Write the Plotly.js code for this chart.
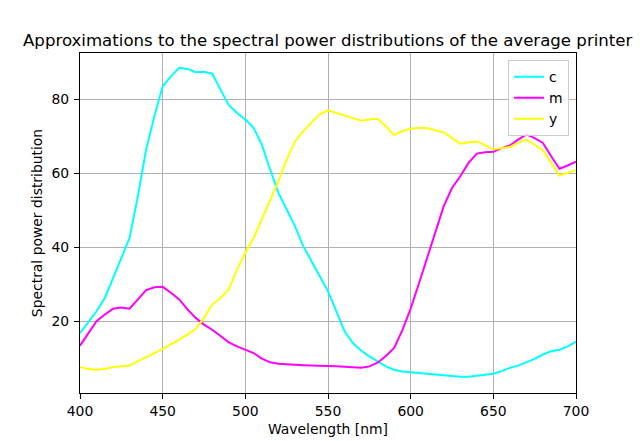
<!DOCTYPE html>
<html>
<head>
<meta charset="utf-8">
<script src="https://cdn.plot.ly/plotly-3.0.1.min.js"></script>
<style>html,body{margin:0;padding:0;background:#fff;}#chart{width:640px;height:441px;}</style>
</head>
<body>
<div id="chart"></div>
<script>
const wavelengths = [400,405,410,415,420,425,430,435,440,445,450,455,460,465,470,475,480,485,490,495,500,505,510,515,520,525,530,535,540,545,550,555,560,565,570,575,580,585,590,595,600,605,610,615,620,625,630,635,640,645,650,655,660,665,670,675,680,685,690,695,700];
const cyan = [16.8,19.7,22.7,26.3,31.7,37.1,42.5,53.8,66.4,75.4,83.5,86.2,88.5,88.2,87.3,87.4,86.9,82.6,78.4,76.3,74.5,72.3,67.7,61.0,54.7,50.2,45.7,40.3,36.2,32.2,28.1,22.7,17.3,14.1,12.1,10.5,9.2,7.8,6.9,6.4,6.2,6.0,5.8,5.4,5.2,5.1,5.0,5.0,5.2,5.6,5.8,6.5,7.4,8.0,8.9,9.8,11.0,11.9,12.3,13.2,14.5];
const magenta = [13.4,16.8,20.0,21.8,23.4,23.7,23.4,25.9,28.4,29.2,29.3,27.7,25.9,23.2,20.9,19.1,17.7,16.0,14.3,13.2,12.3,11.4,9.9,8.9,8.5,8.3,8.2,8.1,8.0,8.0,7.9,7.8,7.7,7.5,7.4,7.8,8.8,10.6,12.8,17.6,23.4,30.2,37.0,43.9,51.1,56.0,59.2,62.8,65.3,65.7,65.8,66.8,67.5,69.1,70.5,69.5,68.2,64.6,61.2,62.1,63.1];
const yellow = [7.6,7.1,6.9,7.1,7.6,7.7,8.0,9.2,10.4,11.4,12.5,13.7,15.0,16.4,17.9,20.9,24.5,26.3,28.6,34.0,38.5,42.5,47.5,52.4,57.8,63.7,68.6,71.4,73.6,75.9,77.0,76.3,75.4,74.8,74.2,74.5,74.7,72.7,70.3,71.4,72.0,72.2,72.2,71.6,71.1,69.5,68.0,68.4,68.6,67.6,66.4,66.8,67.1,68.2,69.1,67.7,66.2,62.8,59.4,60.1,60.8];
const seriesNames = ['c','m','y'];
const seriesColors = ['#00ffff','#ff00ff','#ffff00'];
const xTicks = [400,450,500,550,600,650,700];
const yTicks = [20,40,60,80];

const seriesData = [cyan, magenta, yellow];
const traces = seriesData.map((vals, i) => ({
  x: wavelengths, y: vals, name: seriesNames[i], type: 'scatter', mode: 'lines',
  line: {color: seriesColors[i], width: 2}
}));

const font = {family: 'DejaVu Sans, sans-serif', color: '#000'};
const layout = {
  width: 640, height: 441,
  margin: {l: 80, r: 64, t: 53, b: 48, pad: 0},
  paper_bgcolor: '#fff', plot_bgcolor: '#fff',
  font: Object.assign({size: 14}, font),
  title: {text: 'Approximations to the spectral power distributions of the average printer',
    font: Object.assign({size: 16.6}, font), x: 23/640, xanchor: 'left', xref: 'container',
    y: 0.91, yanchor: 'middle', yref: 'container'},
  xaxis: {range: [400, 700], tickvals: xTicks, ticktext: xTicks.map(String),
    showgrid: true, gridcolor: '#b0b0b0', gridwidth: 1, zeroline: false,
    showline: true, linecolor: '#000', linewidth: 1, mirror: true,
    ticks: 'outside', ticklen: 5, tickwidth: 1, tickcolor: '#000',
    tickfont: Object.assign({size: 13.9}, font),
    title: {text: 'Wavelength [nm]', font: Object.assign({size: 13.9}, font), standoff: 6}},
  yaxis: {range: [0.6, 92.5], tickvals: yTicks, ticktext: yTicks.map(String),
    showgrid: true, gridcolor: '#b0b0b0', gridwidth: 1, zeroline: false,
    showline: true, linecolor: '#000', linewidth: 1, mirror: true,
    ticks: 'outside', ticklen: 5, tickwidth: 1, tickcolor: '#000',
    ticklabelstandoff: 2,
    tickfont: Object.assign({size: 13.9}, font),
    title: {text: 'Spectral power distribution', font: Object.assign({size: 13.9}, font), standoff: 5}},
  legend: {x: 0.986, y: 0.979, xanchor: 'right', yanchor: 'top',
    bgcolor: 'rgba(255,255,255,0.8)', bordercolor: '#cccccc', borderwidth: 1,
    font: Object.assign({size: 13.9}, font), tracegroupgap: 0, itemwidth: 30},
  showlegend: true
};
Plotly.newPlot('chart', traces, layout, {staticPlot: true, displayModeBar: false});
</script>
</body>
</html>
